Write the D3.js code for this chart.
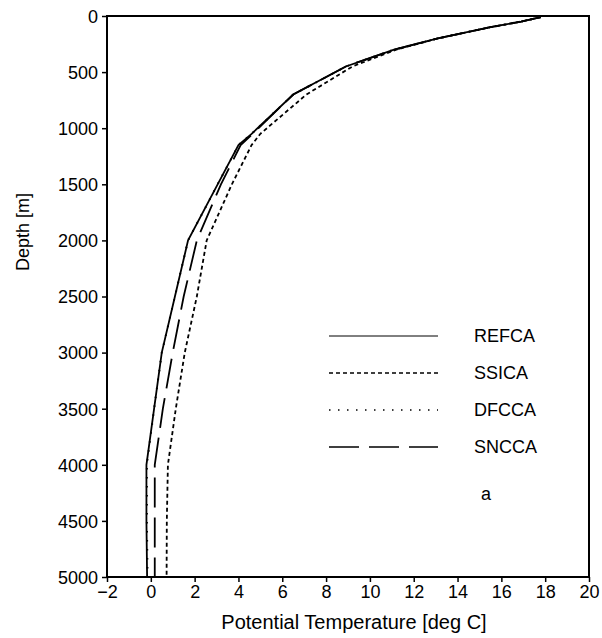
<!DOCTYPE html>
<html lang="en">
<head>
<meta charset="utf-8">
<title>Potential temperature profiles</title>
<script src="https://cdn.jsdelivr.net/npm/d3@7"></script>
<style>
  body { margin: 0; background: #fff; }
  text { font-family: "Liberation Sans", Arial, sans-serif; fill: #000; }
</style>
</head>
<body>
<script>
// depth levels [m] and temperature per run [deg C]
var depths = [10, 50, 100, 200, 300, 450, 700, 1050, 1150, 1500, 2000, 2500, 3000, 3500, 4000, 4500, 5000];
var refca  = [17.8, 16.9, 15.5, 13.1, 11.1, 8.9, 6.5, 4.6, 4.0, 3.05, 1.7, 1.1, 0.5, 0.15, -0.2, -0.2, -0.17];
var ssica  = [17.8, 16.9, 15.5, 13.1, 11.2, 9.2, 7.1, 5.0, 4.6, 3.7, 2.55, 2.1, 1.55, 1.14, 0.78, 0.73, 0.72];
var dfcca  = [17.8, 16.9, 15.5, 13.1, 11.1, 8.9, 6.5, 4.6, 4.0, 3.05, 1.7, 1.1, 0.5, 0.15, -0.18, -0.18, -0.15];
var sncca  = [17.8, 16.9, 15.5, 13.1, 11.1, 8.9, 6.5, 4.65, 4.1, 3.2, 2.1, 1.5, 1.0, 0.55, 0.18, 0.18, 0.18];

var runNames = ["REFCA", "SSICA", "DFCCA", "SNCCA"];
var runValues = [refca, ssica, dfcca, sncca];
var dashes = [null, "4,3", "1.5,7.5", "30,10"];

var xTicks = [-2, 0, 2, 4, 6, 8, 10, 12, 14, 16, 18, 20];
var yTicks = [0, 500, 1000, 1500, 2000, 2500, 3000, 3500, 4000, 4500, 5000];

var w = 602, h = 638;
var m = {left: 107, right: 13, top: 16, bottom: 61};

var svg = d3.select("body").append("svg").attr("width", w).attr("height", h);

var x = d3.scaleLinear().domain([-2, 20]).range([m.left, w - m.right]);
var y = d3.scaleLinear().domain([0, 5000]).range([m.top, h - m.bottom]);

// axes
var xAxis = svg.append("g")
  .attr("transform", "translate(0," + (h - m.bottom) + ")")
  .call(d3.axisBottom(x).tickValues(xTicks).tickSize(5).tickPadding(3));
var yAxis = svg.append("g")
  .attr("transform", "translate(" + m.left + ",0)")
  .call(d3.axisLeft(y).tickValues(yTicks).tickSize(5).tickPadding(4).tickFormat(d3.format("d")));

[xAxis, yAxis].forEach(function(a){
  a.selectAll("text").attr("font-size", 18).attr("font-family", "Liberation Sans, Arial, sans-serif");
  a.selectAll("line").attr("stroke", "#000").attr("stroke-width", 1.5);
  a.select(".domain").remove();
});
yAxis.selectAll("text").attr("dy", "0.35em");

// frame
svg.append("rect")
  .attr("x", m.left).attr("y", m.top)
  .attr("width", w - m.left - m.right).attr("height", h - m.top - m.bottom)
  .attr("fill", "none").attr("stroke", "#000").attr("stroke-width", 2);

// profiles
var line = d3.line()
  .x(function(d){ return x(d[1]); })
  .y(function(d){ return y(d[0]); });

runValues.forEach(function(vals, i){
  svg.append("path")
    .datum(d3.zip(depths, vals))
    .attr("d", line)
    .attr("fill", "none")
    .attr("stroke", "#000")
    .attr("stroke-width", i == 2 ? 2 : 1.8)
    .attr("stroke-dasharray", dashes[i]);
});

// legend
var legendY = d3.scaleLinear().domain([0, 3]).range([336, 447]);
runNames.forEach(function(name, i){
  svg.append("line")
    .attr("x1", 329).attr("x2", 438)
    .attr("y1", legendY(i)).attr("y2", legendY(i))
    .attr("stroke", "#000")
    .attr("stroke-width", i == 0 ? 1 : 1.4)
    .attr("stroke-dasharray", dashes[i]);
  svg.append("text")
    .attr("x", 474).attr("y", legendY(i)).attr("dy", "0.35em")
    .attr("font-size", 18)
    .text(name);
});

svg.append("text").attr("x", 481).attr("y", 500).attr("font-size", 18).text("a");

// axis titles
svg.append("text")
  .attr("x", 354).attr("y", 629)
  .attr("text-anchor", "middle").attr("font-size", 20)
  .text("Potential Temperature [deg C]");
svg.append("text")
  .attr("transform", "translate(29,232) rotate(-90)")
  .attr("text-anchor", "middle").attr("font-size", 18)
  .text("Depth [m]");
</script>
</body>
</html>
